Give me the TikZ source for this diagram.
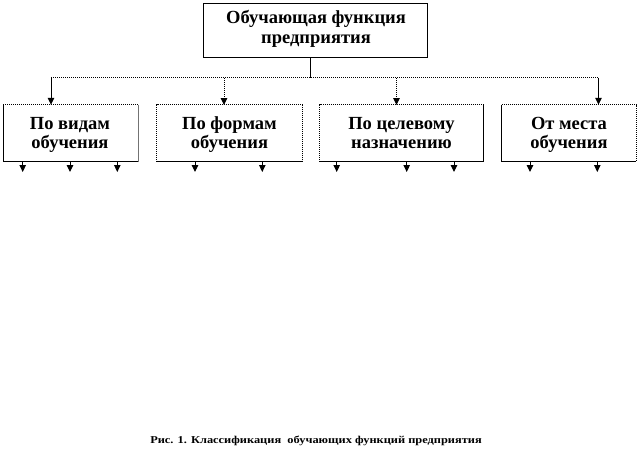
\documentclass[tikz,border=0pt]{standalone}
\usepackage{fontspec}
\setmainfont{Liberation Serif}
\usetikzlibrary{arrows.meta}
\tikzset{
  boxtext/.style={font=\bfseries\fontsize{18.5}{19.5}\selectfont, align=center, inner sep=0pt, text height=32pt, text depth=5pt},
  solidline/.style={line width=1pt, black},
  dotline/.style={line width=1pt, black, dash pattern=on 1pt off 1pt},
  greyline/.style={line width=1pt, black!55},
  tip/.style={-{Triangle[width=6.5pt,length=7pt]}},
}
\begin{document}
\begin{tikzpicture}[x=1pt,y=-1pt]
\useasboundingbox (0,0) rectangle (640,460);
% top box
\node[draw, line width=1pt, minimum width=224pt, minimum height=54pt, inner sep=0pt] (top) at (315,31) {};
\node[boxtext] (toptext) at (316,30) {Обучающая функция\\предприятия};
% category boxes (frames drawn from their anchors)
\node[minimum width=134.5pt, minimum height=56.5pt, inner sep=0pt] (b1) at (70.75,133.25) {};
\node[minimum width=145pt, minimum height=56.5pt, inner sep=0pt] (b2) at (229.5,133.25) {};
\node[minimum width=163pt, minimum height=56.5pt, inner sep=0pt] (b3) at (401.5,133.25) {};
\node[minimum width=134pt, minimum height=56.5pt, inner sep=0pt] (b4) at (569,133.25) {};
\node[boxtext] (t1) at (70,135) {По видам\\обучения};
\node[boxtext] (t2) at (229.5,135) {По формам\\обучения};
\node[boxtext] (t3) at (401.5,135) {По целевому\\назначению};
\node[boxtext] (t4) at (569,135) {От места\\обучения};
% frames
\draw[dotline] (b1.north west) -- (b1.north east);
\draw[solidline] (b1.north west) -- (b1.south west) -- (b1.south east);
\draw[greyline] (b1.south east) -- (b1.north east);
\draw[dotline] (b2.south west) -- (b2.north west) -- (b2.north east) -- (b2.south east);
\draw[solidline] (b2.south west) -- (b2.south east);
\draw[dotline] (b3.south west) -- (b3.north west) -- (b3.north east);
\draw[solidline] (b3.north east) -- (b3.south east) -- (b3.south west);
\draw[dotline] (b4.north west) -- (b4.north east) -- (b4.south east);
\draw[solidline] (b4.north west) -- (b4.south west) -- (b4.south east);
% connectors
\coordinate (j) at (310.5,78);
\coordinate (jl) at (51,78);
\coordinate (jr) at (598.5,78);
\draw[solidline] (top.south -| j) -- (j);
\draw[dotline] (jl) -- (jr);
\draw[solidline,tip] (jl) -- (jl |- b1.north);
\draw[dotline,tip] (224,78) -- (224,105);
\draw[dotline,tip] (396.5,78) -- (396.5,105);
\draw[solidline,tip] (jr) -- (jr |- b4.north);
% short arrows below boxes
\foreach \x in {22.7,70,117.3}{\draw[solidline,tip] (\x,161.5) -- (\x,172);}
\foreach \x in {195,262.3}{\draw[solidline,tip] (\x,161.5) -- (\x,172);}
\foreach \x in {336.7,406.7,454}{\draw[solidline,tip] (\x,161.5) -- (\x,172);}
\foreach \x in {530,597.3}{\draw[solidline,tip] (\x,161.5) -- (\x,172);}
% caption
\node[font=\bfseries\fontsize{10.5}{12}\selectfont, inner sep=0pt] (cap) at (316,441) {\scalebox{1.18}[1]{Рис. 1. Классификация\ \ обучающих функций предприятия}};
\end{tikzpicture}
\end{document}
